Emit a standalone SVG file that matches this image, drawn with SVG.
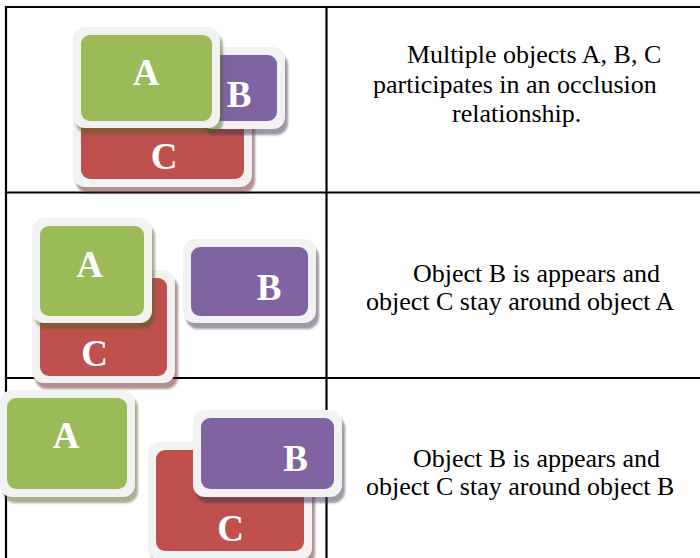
<svg xmlns="http://www.w3.org/2000/svg" width="700" height="558" viewBox="0 0 700 558">
<style>
.grid line{stroke:#000;stroke-width:2.2}
.frame{fill:#F2F2F2}
.ga{fill:#9BBB59}.pb{fill:#8064A2}.rc{fill:#C0504D}
.sa{fill:#4F6228;opacity:.5}.sb{fill:#3F3151;opacity:.5}.sc{fill:#632523;opacity:.5}
.lbl{font-family:"Liberation Serif","Times New Roman",serif;font-weight:bold;font-size:37px;fill:#fff;text-anchor:middle}
.txt{font-family:"Liberation Serif","Times New Roman",serif;font-size:26px;fill:#000}
</style>
<defs>
<filter id="blur" x="-10%" y="-10%" width="120%" height="130%"><feGaussianBlur stdDeviation="1.2"/></filter>
</defs>
<rect width="700" height="558" fill="#fff"/>
<g id="grid" class="grid">
<line x1="5" y1="7" x2="700" y2="7"/>
<line x1="6" y1="6" x2="6" y2="558"/>
<line x1="326.5" y1="6" x2="326.5" y2="558"/>
<line x1="5" y1="192.5" x2="700" y2="192.5"/>
<line x1="5" y1="378" x2="700" y2="378"/>
</g>
<g id="connectors"/>

<!-- Row 1 -->
<g id="r1-C">
<rect class="sc" x="76" y="105" width="179" height="88" rx="12" filter="url(#blur)"/>
<rect class="frame" x="73" y="99" width="179" height="88" rx="12"/>
<rect class="rc" x="81" y="107" width="163" height="72" rx="9"/>
<text class="lbl" x="164" y="169">C</text>
</g>
<g id="r1-B">
<rect class="sb" x="203" y="53" width="85" height="82" rx="12" filter="url(#blur)"/>
<rect class="frame" x="200" y="47" width="85" height="82" rx="12"/>
<rect class="pb" x="208" y="55" width="69" height="66" rx="9"/>
<text class="lbl" x="239" y="107">B</text>
</g>
<g id="r1-A">
<rect class="sa" x="76" y="33" width="147" height="101" rx="12" filter="url(#blur)"/>
<rect class="frame" x="73" y="27" width="147" height="101" rx="12"/>
<rect class="ga" x="81" y="35" width="131" height="86" rx="9"/>
<text class="lbl" x="146" y="85">A</text>
</g>
<g id="r1-text">
<text class="txt" x="407" y="63">Multiple objects A, B, C</text>
<text class="txt" x="373" y="93">participates in an occlusion</text>
<text class="txt" x="452" y="122">relationship.</text>
</g>

<!-- Row 2 -->
<g id="r2-C">
<rect class="sc" x="35" y="276" width="143" height="113" rx="12" filter="url(#blur)"/>
<rect class="frame" x="32" y="270" width="143" height="113" rx="12"/>
<rect class="rc" x="40" y="278" width="127" height="98" rx="9"/>
<text class="lbl" x="94.5" y="366">C</text>
</g>
<g id="r2-A">
<rect class="sa" x="35" y="224" width="120" height="105" rx="12" filter="url(#blur)"/>
<rect class="frame" x="32" y="218" width="120" height="105" rx="12"/>
<rect class="ga" x="40" y="226" width="104" height="90" rx="9"/>
<text class="lbl" x="89.5" y="277">A</text>
</g>
<g id="r2-B">
<rect class="sb" x="186" y="245" width="133" height="84" rx="12" filter="url(#blur)"/>
<rect class="frame" x="183" y="239" width="133" height="84" rx="12"/>
<rect class="pb" x="191" y="247" width="117" height="69" rx="9"/>
<text class="lbl" x="269" y="300">B</text>
</g>
<g id="r2-text">
<text class="txt" x="413" y="282">Object B is appears and</text>
<text class="txt" x="366" y="310">object C stay around object A</text>
</g>

<!-- Row 3 -->
<g id="r3-A">
<rect class="sa" x="3" y="396" width="135" height="107" rx="12" filter="url(#blur)"/>
<rect class="frame" x="0" y="390" width="135" height="107" rx="12"/>
<rect class="ga" x="7" y="398" width="120" height="91" rx="9"/>
<text class="lbl" x="66" y="448">A</text>
</g>
<g id="r3-C">
<rect class="sc" x="151" y="448" width="164" height="118" rx="12" filter="url(#blur)"/>
<rect class="frame" x="148" y="442" width="164" height="118" rx="12"/>
<rect class="rc" x="156" y="450" width="148" height="101" rx="9"/>
<text class="lbl" x="230.5" y="541">C</text>
</g>
<g id="r3-B">
<rect class="sb" x="196" y="416" width="149" height="87" rx="12" filter="url(#blur)"/>
<rect class="frame" x="193" y="410" width="149" height="87" rx="12"/>
<rect class="pb" x="201" y="418" width="133" height="71" rx="9"/>
<text class="lbl" x="295.5" y="471">B</text>
</g>
<g id="r3-text">
<text class="txt" x="413" y="467">Object B is appears and</text>
<text class="txt" x="366" y="495">object C stay around object B</text>
</g>
</svg>
